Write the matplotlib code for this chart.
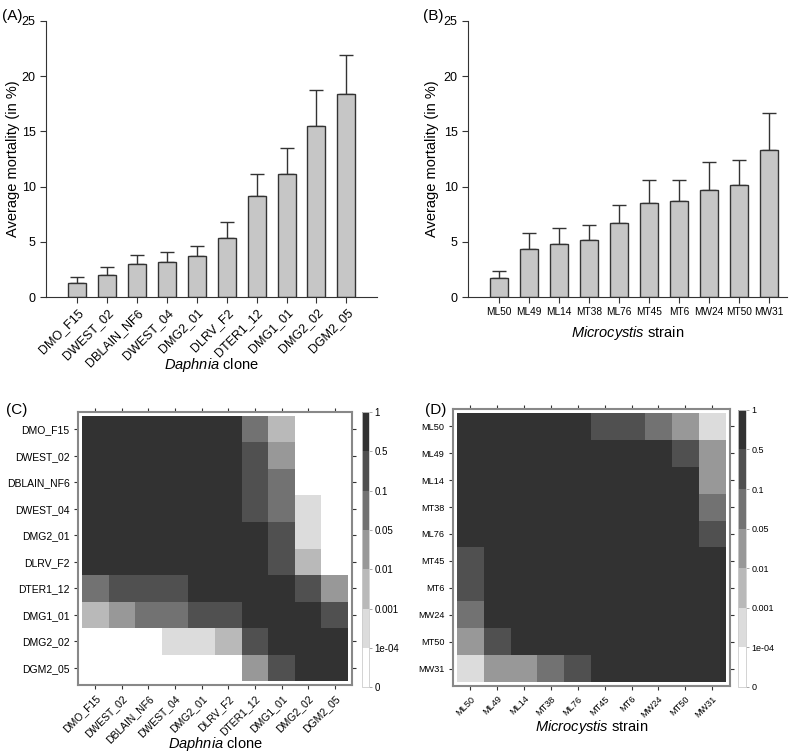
import numpy as np
import matplotlib
matplotlib.use('Agg')
import matplotlib.pyplot as plt
from matplotlib.colors import ListedColormap, BoundaryNorm

plt.rcParams['font.family'] = ['Liberation Sans', 'DejaVu Sans']
plt.rcParams['mathtext.fontset'] = 'custom'
plt.rcParams['mathtext.rm'] = 'Liberation Sans'
plt.rcParams['mathtext.it'] = 'Liberation Sans:italic'

### mortality data (panel A and B)
clones = ['DMO_F15', 'DWEST_02', 'DBLAIN_NF6', 'DWEST_04', 'DMG2_01',
          'DLRV_F2', 'DTER1_12', 'DMG1_01', 'DMG2_02', 'DGM2_05']
clone_mean = [1.30, 2.02, 3.02, 3.17, 3.68, 5.34, 9.15, 11.14, 15.46, 18.42]
clone_se = [0.51, 0.70, 0.75, 0.88, 0.94, 1.45, 2.02, 2.36, 3.26, 3.53]

strains = ['ML50', 'ML49', 'ML14', 'MT38', 'ML76', 'MT45', 'MT6', 'MW24', 'MT50', 'MW31']
strain_mean = [1.75, 4.32, 4.83, 5.16, 6.67, 8.48, 8.67, 9.66, 10.18, 13.29]
strain_se = [0.61, 1.48, 1.42, 1.36, 1.63, 2.12, 1.93, 2.54, 2.23, 3.41]

### pairwise p-values (panel C and D), coded by significance band
p_bounds = [0, 1e-4, 0.001, 0.01, 0.05, 0.1, 0.5, 1]
p_labels = ['0', '1e-04', '0.001', '0.01', '0.05', '0.1', '0.5', '1']
band_p = np.array([5e-5, 5e-4, 5e-3, 0.03, 0.07, 0.3, 0.8])

clone_band = [
    [6, 6, 6, 6, 6, 6, 4, 2, 0, 0],
    [6, 6, 6, 6, 6, 6, 5, 3, 0, 0],
    [6, 6, 6, 6, 6, 6, 5, 4, 0, 0],
    [6, 6, 6, 6, 6, 6, 5, 4, 1, 0],
    [6, 6, 6, 6, 6, 6, 6, 5, 1, 0],
    [6, 6, 6, 6, 6, 6, 6, 5, 2, 0],
    [4, 5, 5, 5, 6, 6, 6, 6, 5, 3],
    [2, 3, 4, 4, 5, 5, 6, 6, 6, 5],
    [0, 0, 0, 1, 1, 2, 5, 6, 6, 6],
    [0, 0, 0, 0, 0, 0, 3, 5, 6, 6],
]
strain_band = [
    [6, 6, 6, 6, 6, 5, 5, 4, 3, 1],
    [6, 6, 6, 6, 6, 6, 6, 6, 5, 3],
    [6, 6, 6, 6, 6, 6, 6, 6, 6, 3],
    [6, 6, 6, 6, 6, 6, 6, 6, 6, 4],
    [6, 6, 6, 6, 6, 6, 6, 6, 6, 5],
    [5, 6, 6, 6, 6, 6, 6, 6, 6, 6],
    [5, 6, 6, 6, 6, 6, 6, 6, 6, 6],
    [4, 6, 6, 6, 6, 6, 6, 6, 6, 6],
    [3, 5, 6, 6, 6, 6, 6, 6, 6, 6],
    [1, 3, 3, 4, 5, 6, 6, 6, 6, 6],
]
clone_p = band_p[np.array(clone_band)]
strain_p = band_p[np.array(strain_band)]

grays = ['#ffffff', '#dcdcdc', '#b9b9b9', '#989898', '#727272', '#505050', '#323232']
cmap = ListedColormap(grays)
norm = BoundaryNorm(p_bounds, cmap.N)

fig = plt.figure(figsize=(8, 7.55), dpi=100)

def bar_panel(rect, names, mean, se, xlab, rot, xmax, ylab_x, xlab_y):
    ax = fig.add_axes(rect)
    x = np.arange(len(names))
    ax.bar(x, mean, width=0.6, color='#c6c6c6', edgecolor='#333333', linewidth=1, zorder=2)
    ax.errorbar(x, mean, yerr=[np.zeros(len(se)), se], fmt='none', ecolor='#333333',
                elinewidth=1, capsize=5, capthick=1, zorder=1)
    ax.set_xlim(-1.04, xmax)
    ax.set_ylim(0, 25)
    ax.set_yticks([0, 5, 10, 15, 20, 25])
    ax.set_xticks(x)
    if rot:
        ax.set_xticklabels(names, rotation=45, ha='right', rotation_mode='anchor', fontsize=8)
    else:
        ax.set_xticklabels(names, fontsize=7.3)
    for s in ['top', 'right']:
        ax.spines[s].set_visible(False)
    for s in ['left', 'bottom']:
        ax.spines[s].set_color('#333333')
    ax.tick_params(direction='out', length=4, color='#333333', labelsize=9)
    ax.tick_params(axis='x', pad=3)
    if not rot:
        ax.tick_params(axis='x', labelsize=7.3)
    ax.set_ylabel('Average mortality (in %)', fontsize=10.5)
    ax.yaxis.set_label_coords(ylab_x, 0.5)
    ax.yaxis.label.set_va('center')
    ax.set_xlabel(xlab, fontsize=10.5)
    ax.xaxis.set_label_coords(0.5, xlab_y)
    ax.xaxis.label.set_va('center')
    return ax

bar_panel([0.0575, 0.6066, 0.414, 0.3656], clones, clone_mean, clone_se,
          r'$\mathit{Daphnia}$ clone', True, 10.03, -0.1, -0.245)
bar_panel([0.585, 0.6066, 0.399, 0.3656], strains, strain_mean, strain_se,
          r'$\mathit{Microcystis}$ strain', False, 9.6, -0.113, -0.13)

def heat_panel(rect, crect, names, pvals, xlab, fs, cfs, xlab_y):
    ax = fig.add_axes(rect)
    n = len(names)
    mesh = ax.pcolormesh(np.arange(n + 1) - 0.5, np.arange(n + 1) - 0.5, pvals,
                         cmap=cmap, norm=norm)
    ax.set_xlim(-0.65, n - 0.35)
    ax.set_ylim(n - 0.35, -0.65)
    ax.set_xticks(np.arange(n))
    ax.set_yticks(np.arange(n))
    ax.set_xticklabels(names, rotation=45, ha='right', rotation_mode='anchor', fontsize=fs)
    ax.set_yticklabels(names, fontsize=fs)
    ax.tick_params(direction='out', length=3, color='#333333', top=True, right=True, pad=3)
    for s in ax.spines.values():
        s.set_color('#888888')
        s.set_linewidth(1.5)
    ax.set_xlabel(xlab, fontsize=10.5)
    ax.xaxis.set_label_coords(0.5, xlab_y)
    ax.xaxis.label.set_va('center')
    cax = fig.add_axes(crect)
    cb = fig.colorbar(mesh, cax=cax, spacing='uniform', ticks=p_bounds)
    cb.ax.set_yticklabels(p_labels, fontsize=cfs)
    cb.ax.tick_params(length=2, width=0.6, color='#999999', pad=2)
    cb.outline.set_edgecolor('#cccccc')
    cb.outline.set_linewidth(0.6)
    return ax

heat_panel([0.0975, 0.0927, 0.3425, 0.3616], [0.4525, 0.090, 0.009, 0.364],
           clones, clone_p, r'$\mathit{Daphnia}$ clone', 7.5, 7, -0.216)
heat_panel([0.566, 0.0914, 0.346, 0.367], [0.9225, 0.0901, 0.01, 0.367],
           strains, strain_p, r'$\mathit{Microcystis}$ strain', 6.6, 6.5, -0.148)

fig.text(0.003, 0.988, '(A)', fontsize=11, va='top')
fig.text(0.529, 0.988, '(B)', fontsize=11, va='top')
fig.text(0.008, 0.457, '(C)', fontsize=11, va='center')
fig.text(0.531, 0.457, '(D)', fontsize=11, va='center')

fig.savefig('out.png', dpi=100)
